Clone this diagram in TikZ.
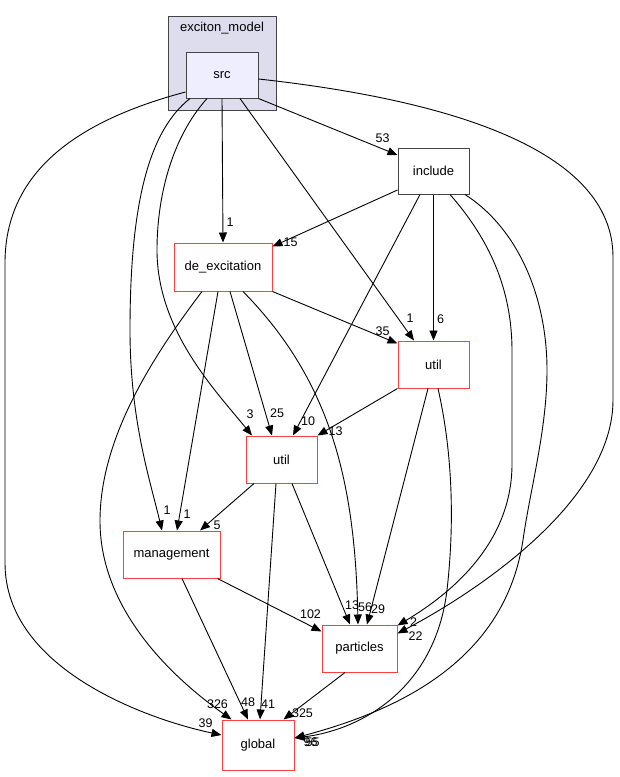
\documentclass[tikz,border=0pt]{standalone}
\usepackage{fontspec}
\setmainfont{Liberation Sans}
\usetikzlibrary{arrows.meta,shapes}

\definecolor{dirred}{RGB}{255,64,64}
\definecolor{clusterfill}{RGB}{221,221,238}
\definecolor{srcfill}{RGB}{238,238,255}
\definecolor{boxgray}{RGB}{68,68,68}

\begin{document}
\begin{tikzpicture}[x=1pt,y=-1pt,
    every node/.style={font=\fontsize{13}{15}\selectfont},
    dirbox/.style={draw=dirred, line width=1pt, fill=white, inner sep=0pt},
    extbox/.style={draw=boxgray, line width=1pt, fill=white, inner sep=0pt},
    srcbox/.style={draw=boxgray, line width=1pt, fill=srcfill, inner sep=0pt},
    cluster/.style={draw=boxgray, line width=1pt, fill=clusterfill, inner sep=0pt},
    dep/.style={draw, line width=0.9pt, -{Triangle[length=10pt,width=8pt]}},
    lbl/.style={inner sep=0pt, font=\fontsize{12.5}{14}\selectfont}]

  \useasboundingbox (0,0) rectangle (619,777);

        % directories
  \node[cluster, minimum width=108pt, minimum height=94pt] (excm) at (222,63) {};
  \node (excmlabel) at (222,28) {exciton\_model};
  \node[srcbox, minimum width=72pt, minimum height=46pt] (src) at (222,75) {src};
  \node[extbox, minimum width=71pt, minimum height=46pt] (include) at (433.5,171) {include};
  \node[dirbox, minimum width=98pt, minimum height=48pt] (deexc) at (223,267) {de\_excitation};
  \node[dirbox, minimum width=71pt, minimum height=47pt] (utilr) at (433.5,364.5) {util};
  \node[dirbox, minimum width=71pt, minimum height=47pt] (utilm) at (281.5,459.5) {util};
  \node[dirbox, minimum width=97pt, minimum height=47pt] (mgmt) at (171.5,554.5) {management};
  \node[dirbox, minimum width=75pt, minimum height=47pt] (part) at (359.5,648.5) {particles};
  \node[dirbox, minimum width=72pt, minimum height=50pt] (glob) at (258,745) {global};

        % from src
  \draw[dep] (src.south east) -- ([yshift=16pt]include.west)
    node[lbl, at end, xshift=-15pt, yshift=17pt] {53};
  \draw[dep] (src.south) -- (deexc.north)
    node[lbl, at end, xshift=7pt, yshift=20pt] {1};
  \draw[dep] ([xshift=18pt]src.south) -- ([xshift=-19.5pt]utilr.north)
    node[lbl, at end, xshift=-4pt, yshift=22pt] {1};
  \draw[dep] ([xshift=-15pt]src.south) .. controls (170,140) and (157,200) .. (157,250)
    .. controls (157,330) and (215,390) .. ([xshift=-29.5pt]utilm.north)
    node[lbl, at end, xshift=-2pt, yshift=21pt] {3};
  \draw[dep] ([xshift=-32pt]src.south) .. controls (150,130) and (130,200) .. (130,330)
    .. controls (130,420) and (150,480) .. ([xshift=-9.5pt]mgmt.north)
    node[lbl, at end, xshift=5pt, yshift=20pt] {1};
  \draw[dep] ([yshift=-17pt]src.west) .. controls (80,120) and (5,170) .. (5,263) -- (5,563)
    .. controls (5,670) and (150,720) .. ([yshift=10pt]glob.west)
    node[lbl, at end, xshift=-16pt, yshift=12pt] {39};
  \draw[dep] ([yshift=-4pt]src.east) .. controls (450,100) and (613,150) .. (613,257) -- (613,400)
    .. controls (613,500) and (480,590) .. ([yshift=-9pt]part.north east)
    node[lbl, at end, xshift=18pt, yshift=-3pt] {22};

        % from include
  \draw[dep] ([yshift=-19pt]include.west) -- ([yshift=-4pt]deexc.north east)
    node[lbl, at end, xshift=18pt, yshift=4pt] {15};
  \draw[dep] (include.south) -- (utilr.north)
    node[lbl, at end, xshift=7pt, yshift=21pt] {6};
  \draw[dep] ([xshift=-13.5pt]include.south) -- ([xshift=11.5pt]utilm.north)
    node[lbl, at end, xshift=15pt, yshift=14pt] {10};
  \draw[dep] ([xshift=16.5pt]include.south) .. controls (490,240) and (512,290) .. (512,351) -- (512,464)
    .. controls (512,550) and (440,600) .. ([yshift=-1pt]part.north east)
    node[lbl, at end, xshift=16pt, yshift=3pt] {2};
  \draw[dep] ([xshift=31.5pt]include.south) .. controls (520,230) and (547,300) .. (547,370)
    .. controls (547,430) and (530,490) .. (523,540)
    .. controls (505,660) and (400,710) .. ([yshift=7pt]glob.east)
    node[lbl, at end, xshift=18pt, yshift=-4pt] {55};

        % from de_excitation
  \draw[dep] (deexc.south east) -- ([yshift=-3pt]utilr.north west)
    node[lbl, at end, xshift=-15pt, yshift=12pt] {35};
  \draw[dep] ([xshift=7pt]deexc.south) -- ([xshift=-9.5pt]utilm.north)
    node[lbl, at end, xshift=5pt, yshift=22pt] {25};
  \draw[dep] ([xshift=-5pt]deexc.south) -- ([xshift=5.5pt]mgmt.north)
    node[lbl, at end, xshift=10pt, yshift=16pt] {1};
  \draw[dep] ([xshift=20pt]deexc.south) .. controls (330,380) and (355,480) .. ([xshift=-1.5pt]part.north)
    node[lbl, at end, xshift=7pt, yshift=17pt] {56};
  \draw[dep] ([xshift=-21pt]deexc.south) .. controls (150,360) and (100,440) .. (100,521)
    .. controls (100,620) and (190,690) .. ([xshift=10pt]glob.north west)
    node[lbl, at end, xshift=-14pt, yshift=15pt] {326};

        % from util (include)
  \draw[dep] (utilr.south west) -- (utilm.north east)
    node[lbl, at end, xshift=18pt, yshift=4pt] {13};
  \draw[dep] ([xshift=-5.5pt]utilr.south) -- ([xshift=7.5pt]part.north)
    node[lbl, at end, xshift=11pt, yshift=15pt] {29};
  \draw[dep] ([xshift=4.5pt]utilr.south) .. controls (452,450) and (455,520) .. (447,590)
    .. controls (435,690) and (360,730) .. ([yshift=7pt]glob.east)
    node[lbl, at end, xshift=16pt, yshift=-4pt] {96};

        % from util (src)
  \draw[dep] ([xshift=-27.5pt]utilm.south) -- ([xshift=28.5pt]mgmt.north)
    node[lbl, at end, xshift=17pt, yshift=5pt] {5};
  \draw[dep] ([xshift=-5.5pt]utilm.south) -- ([xshift=2pt]glob.north)
    node[lbl, at end, xshift=8pt, yshift=15pt] {41};
  \draw[dep] ([xshift=10.5pt]utilm.south) -- ([xshift=-9.5pt]part.north)
    node[lbl, at end, xshift=2pt, yshift=19pt] {13};

        % from management and particles
  \draw[dep] ([xshift=-3pt]mgmt.south east) -- ([yshift=-7pt]part.north west)
    node[lbl, at end, xshift=-11pt, yshift=17pt] {102};
  \draw[dep] ([xshift=10.5pt]mgmt.south) -- ([xshift=-10pt]glob.north)
    node[lbl, at end, xshift=0pt, yshift=17pt] {48};
  \draw[dep] ([xshift=-14.5pt]part.south) -- ([xshift=-11pt]glob.north east)
    node[lbl, at end, xshift=19pt, yshift=6pt] {325};

\end{tikzpicture}
\end{document}
